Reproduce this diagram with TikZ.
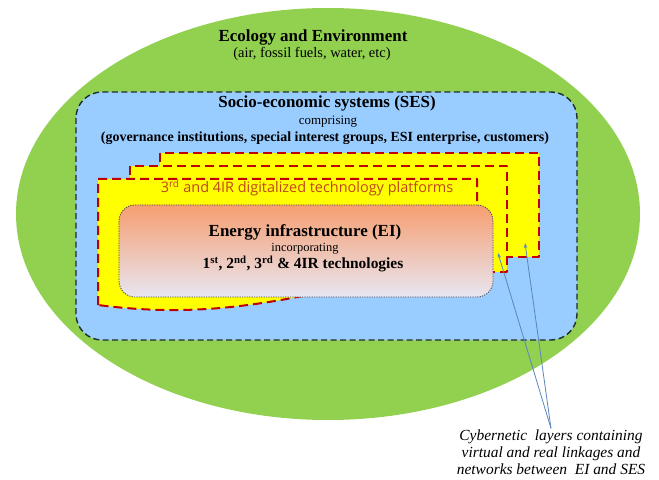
\documentclass[tikz,border=0pt]{standalone}
\usepackage{fontspec}
\setmainfont{Liberation Serif}
\newfontfamily\platfont{Open Sans}
\usetikzlibrary{arrows.meta}

\definecolor{ecogreen}{RGB}{146,208,80}
\definecolor{sesblue}{RGB}{153,204,255}
\definecolor{sesline}{RGB}{30,45,45}
\definecolor{layeryellow}{RGB}{255,255,0}
\definecolor{layerred}{RGB}{192,0,0}
\definecolor{platred}{RGB}{190,70,30}
\definecolor{eitop}{RGB}{246,158,112}
\definecolor{eibottom}{RGB}{232,230,242}
\definecolor{eiline}{RGB}{70,70,80}
\definecolor{arrowblue}{RGB}{90,134,189}

\begin{document}
\begin{tikzpicture}[
    x = 1bp, y = -1bp,
    line join=round,
    ecostyle/.style = {fill=ecogreen},
    sesstyle/.style = {line width=1.4bp, draw=sesline, fill=sesblue, dash pattern=on 6bp off 3.5bp, rounded corners=26bp},
    layerstyle/.style = {line width=2bp, draw=layerred, fill=layeryellow, dash pattern=on 9bp off 5bp},
    eistyle/.style = {draw=eiline, line width=0.8bp, dash pattern=on 1.2bp off 1.2bp, rounded corners=16bp, top color=eitop, bottom color=eibottom, minimum width=374bp, minimum height=92bp},
    cyberarrow/.style = {-{Stealth[length=5bp,width=3.5bp]}, draw=arrowblue, line width=0.8bp}
]

    \useasboundingbox (0,0) rectangle (659,480);

    % ecology and environment
    \fill[ecostyle] (328,214) ellipse [x radius=312, y radius=206];
    \node[font=\bfseries\fontsize{17}{19}\selectfont] (eco) at (313,37) {Ecology and Environment};
    \node[font=\fontsize{14.5}{16}\selectfont] (ecosub) at (312,54) {(air, fossil fuels, water, etc)};

    % socio-economic systems
    \draw[sesstyle] (76,92) rectangle (577,340);
    \node[font=\bfseries\fontsize{17}{19}\selectfont] (sestitle) at (327,103) {Socio-economic systems (SES)};
    \node[font=\fontsize{13}{15}\selectfont] (sescomp) at (328,122) {comprising};
    \node[font=\bfseries\fontsize{14}{16}\selectfont] (seslist) at (325,138) {(governance institutions, special interest groups, ESI enterprise, customers)};

    % technology platform layers
    \draw[layerstyle] (160,153) rectangle (539,257);
    \draw[layerstyle] (130,166) rectangle (507,272);
    \draw[layerstyle] (98,305) -- (98,179) -- (477,179) -- (477,268)
        .. controls (330,280) and (250,325) .. cycle;
    \node[font=\platfont\fontsize{14.5}{16}\selectfont, text=platred] (platforms) at (307,188)
        {3\textsuperscript{rd} and 4IR digitalized technology platforms};

    % energy infrastructure
    \node[eistyle] (ei) at (306,251) {};
    \node[font=\bfseries\fontsize{17}{19}\selectfont] (eititle) at (305,232) {Energy infrastructure (EI)};
    \node[font=\fontsize{12.5}{14}\selectfont] (eisub) at (305,249) {incorporating};
    \node[font=\bfseries\fontsize{15.5}{17}\selectfont] (eitech) at (303,264)
        {1\textsuperscript{st}, 2\textsuperscript{nd}, 3\textsuperscript{rd} \& 4IR technologies};

    % cybernetic layers
    \coordinate (tipA) at (498,253);
    \coordinate (tipB) at (525,243);
    \node[font=\itshape\fontsize{15.5}{17}\selectfont, align=center, inner sep=1bp] (cyber) at (551,452)
        {Cybernetic~ layers containing\\virtual and real linkages and\\networks between~ EI and SES};
    \draw[cyberarrow] (cyber.north) -- (tipA);
    \draw[cyberarrow] (cyber.north) -- (tipB);

\end{tikzpicture}
\end{document}
